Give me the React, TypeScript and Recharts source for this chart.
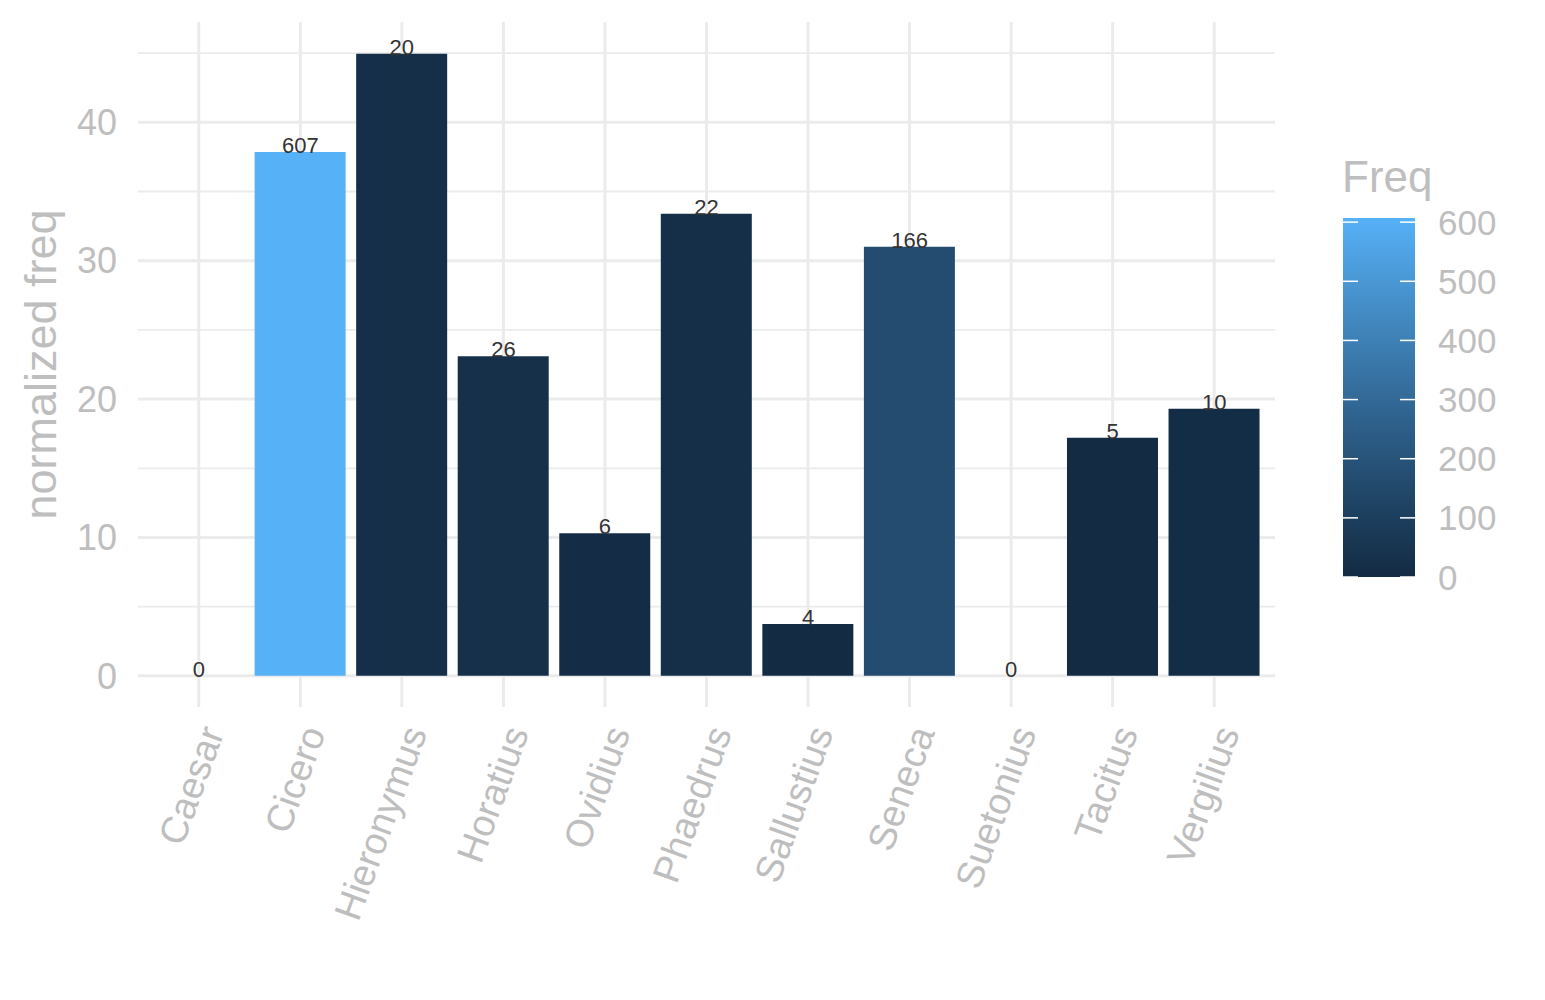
import React from 'react';
import {
  ComposedChart,
  Bar,
  Line,
  Cell,
  XAxis,
  YAxis,
  CartesianGrid,
  LabelList,
  Legend
} from 'recharts';

// Authors and their values
const authors = [
  'Caesar',
  'Cicero',
  'Hieronymus',
  'Horatius',
  'Ovidius',
  'Phaedrus',
  'Sallustius',
  'Seneca',
  'Suetonius',
  'Tacitus',
  'Vergilius'
];
const normalizedFreq = [0, 37.85, 44.95, 23.1, 10.3, 33.4, 3.75, 31.0, 0, 17.2, 19.3];
const freq = [0, 607, 20, 26, 6, 22, 4, 166, 0, 5, 10];

const majorTicks = [0, 10, 20, 30, 40];
const minorTicks = [5, 15, 25, 35, 45];
const legendTicks = [0, 100, 200, 300, 400, 500, 600];

const FONT = '"Liberation Sans", Arial, Helvetica, sans-serif';
const GREY = '#BEBEBE';
const GRID = '#EBEBEB';
const LOW = '#132B43';
const HIGH = '#56B1F7';

// ggplot-like gradient, interpolated in Lab space
const toLin = (c: number) => {
  c /= 255;
  return c <= 0.04045 ? c / 12.92 : Math.pow((c + 0.055) / 1.055, 2.4);
};
const fromLin = (c: number) => {
  const v = c <= 0.0031308 ? 12.92 * c : 1.055 * Math.pow(c, 1 / 2.4) - 0.055;
  return Math.max(0, Math.min(255, Math.round(v * 255)));
};
const WX = 0.95047, WY = 1.0, WZ = 1.08883;
const fLab = (t: number) => (t > 216 / 24389 ? Math.cbrt(t) : (24389 / 27 * t + 16) / 116);
const fInv = (t: number) => (t * t * t > 216 / 24389 ? t * t * t : (116 * t - 16) / (24389 / 27));

const hexToLab = (hex: string) => {
  const r = toLin(parseInt(hex.slice(1, 3), 16));
  const g = toLin(parseInt(hex.slice(3, 5), 16));
  const b = toLin(parseInt(hex.slice(5, 7), 16));
  const x = (0.4124 * r + 0.3576 * g + 0.1805 * b) / WX;
  const y = (0.2126 * r + 0.7152 * g + 0.0722 * b) / WY;
  const z = (0.0193 * r + 0.1192 * g + 0.9505 * b) / WZ;
  const fx = fLab(x), fy = fLab(y), fz = fLab(z);
  return [116 * fy - 16, 500 * (fx - fy), 200 * (fy - fz)];
};

const labToHex = ([L, a, bb]: number[]) => {
  const fy = (L + 16) / 116;
  const fx = fy + a / 500;
  const fz = fy - bb / 200;
  const x = fInv(fx) * WX, y = fInv(fy) * WY, z = fInv(fz) * WZ;
  const r = 3.2406 * x - 1.5372 * y - 0.4986 * z;
  const g = -0.9689 * x + 1.8758 * y + 0.0415 * z;
  const b = 0.0557 * x - 0.204 * y + 1.057 * z;
  const h = (v: number) => fromLin(v).toString(16).padStart(2, '0');
  return '#' + h(r) + h(g) + h(b);
};

const lowLab = hexToLab(LOW);
const highLab = hexToLab(HIGH);
const maxFreq = Math.max(...freq);
const colorFor = (v: number) => {
  const t = v / maxFreq;
  return labToHex(lowLab.map((c, i) => c + (highLab[i] - c) * t));
};

const data = authors.map((name, i) => ({ name, norm: normalizedFreq[i], freq: freq[i] }));

const XTick = (props: any) => {
  const { x, y, payload } = props;
  return (
    <g transform={`translate(${x},${y}) rotate(-70)`}>
      <text textAnchor="end" dy="0.72em" fill={GREY} fontSize={38} fontFamily={FONT}>
        {payload.value}
      </text>
    </g>
  );
};

// count label sitting on top of each bar (also on the zero bars)
const CountLabel = (props: any) => {
  const { x, y, value } = props;
  return (
    <text x={x} y={y + 1} textAnchor="middle" fill="#333333" fontSize={22} fontFamily={FONT}>
      {value}
    </text>
  );
};

const YTitle = (props: any) => {
  const { viewBox } = props;
  const cy = viewBox.y + viewBox.height / 2;
  return (
    <text
      x={56}
      y={cy}
      transform={`rotate(-90, 56, ${cy})`}
      textAnchor="middle"
      fill={GREY}
      fontSize={45}
      fontFamily={FONT}
    >
      normalized freq
    </text>
  );
};

// colourbar legend, 0 at bottom, max at top
const BAR_W = 72;
const BAR_H = 359;
const Colorbar = () => {
  const stops = Array.from({ length: 21 }, (_, i) => i / 20);
  const yOf = (v: number) => 78 + BAR_H - (v / maxFreq) * BAR_H;
  return (
    <svg width={200} height={460} style={{ display: 'block' }}>
      <defs>
        <linearGradient id="freqGrad" x1="0" y1="1" x2="0" y2="0">
          {stops.map(s => (
            <stop key={s} offset={s} stopColor={colorFor(s * maxFreq)} />
          ))}
        </linearGradient>
      </defs>
      <text x={12} y={52} fill={GREY} fontSize={44} fontFamily={FONT}>
        Freq
      </text>
      <rect x={13} y={78} width={BAR_W} height={BAR_H} fill="url(#freqGrad)" />
      {legendTicks.map(t => (
        <g key={t}>
          <line x1={13} x2={28} y1={yOf(t)} y2={yOf(t)} stroke="#ffffff" strokeWidth={1.5} />
          <line x1={70} x2={85} y1={yOf(t)} y2={yOf(t)} stroke="#ffffff" strokeWidth={1.5} />
          <text x={108} y={yOf(t)} dy="0.36em" fill={GREY} fontSize={35} fontFamily={FONT}>
            {t}
          </text>
        </g>
      ))}
    </svg>
  );
};

const App: React.FC = () => {
  return (
    <div style={{ position: 'absolute', left: 0, top: 0, background: '#ffffff' }}>
      <ComposedChart
        width={1545}
        height={1000}
        data={data}
        margin={{ top: 22, right: 270, bottom: 0, left: 0 }}
        barCategoryGap="5%"
      >
        <CartesianGrid
          horizontalValues={minorTicks}
          vertical={false}
          syncWithTicks
          stroke={GRID}
          strokeWidth={1.8}
        />
        <CartesianGrid
          horizontalValues={majorTicks}
          syncWithTicks
          stroke={GRID}
          strokeWidth={3}
        />
        <XAxis
          dataKey="name"
          height={293}
          padding={{ left: 10, right: 10 }}
          axisLine={false}
          tickLine={false}
          tickSize={0}
          tickMargin={16}
          interval={0}
          tick={<XTick />}
        />
        <YAxis
          type="number"
          width={138}
          domain={[-2.25, 47.25]}
          ticks={majorTicks}
          axisLine={false}
          tickLine={false}
          tickSize={0}
          tickMargin={21}
          tick={{ fill: GREY, fontSize: 36, fontFamily: FONT }}
          label={<YTitle />}
        />
        <Legend
          layout="vertical"
          align="center"
          verticalAlign="middle"
          content={<Colorbar />}
          wrapperStyle={{ left: 1330, top: 140, width: 200, height: 460 }}
        />
        <Bar dataKey="norm" isAnimationActive={false}>
          {data.map((d, i) => (
            <Cell key={`cell-${i}`} fill={colorFor(d.freq)} />
          ))}
        </Bar>
        <Line
          dataKey="norm"
          stroke="none"
          dot={false}
          activeDot={false}
          legendType="none"
          isAnimationActive={false}
        >
          <LabelList dataKey="freq" content={<CountLabel />} />
        </Line>
      </ComposedChart>
    </div>
  );
};

export default App;
